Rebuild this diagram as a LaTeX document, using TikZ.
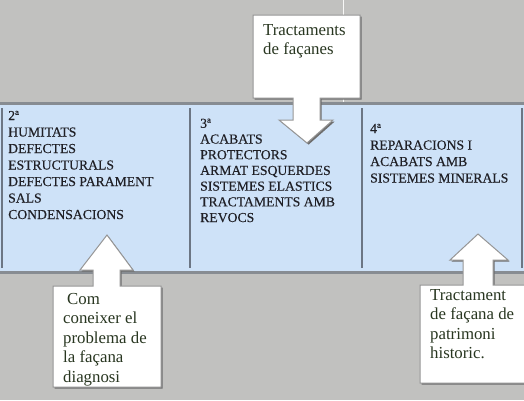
\documentclass[tikz,border=0pt]{standalone}
\usepackage{fontspec}
\setmainfont{Liberation Serif}
\newfontfamily\bandfont[FakeBold=0.35]{Liberation Serif}
\usetikzlibrary{positioning,shadows}
\definecolor{bggray}{RGB}{193,193,191}
\definecolor{bandblue}{RGB}{206,226,248}
\definecolor{bandedge}{RGB}{135,140,146}
\definecolor{divline}{RGB}{108,118,132}
\definecolor{coltextc}{RGB}{32,32,38}
\definecolor{calltextc}{RGB}{40,54,32}
\definecolor{calledge}{RGB}{150,150,150}
\definecolor{callshade}{RGB}{110,110,110}
\tikzset{
  coltext/.style={anchor=north west, inner sep=0pt, align=left, text=coltextc, font=\bandfont\fontsize{13.7pt}{16.2pt}\selectfont},
  calltext/.style={anchor=north west, inner sep=0pt, align=left, text=calltextc, font=\fontsize{16.8pt}{19.5pt}\selectfont},
  callshape/.style={fill=white, draw=calledge, line width=1pt, drop shadow={shadow xshift=1.6pt, shadow yshift=-1.6pt, opacity=1, fill=callshade}},
  divider/.style={draw=divline, line width=2pt},
  bandline/.style={draw=bandedge, line width=2.5pt}
}

\begin{document}
\begin{tikzpicture}[x=1pt, y=-1pt]
  \useasboundingbox (0,0) rectangle (524,400);
  \fill[bggray] (0,0) rectangle (524,400);
  \draw[white!88!bggray, line width=1pt] (343,0) -- (343,103);
  % band with the three columns
  \fill[bandblue] (0,104) rectangle (524,272);
  \draw[bandline] (0,103.5) -- (524,103.5);
  \draw[bandline] (0,272.5) -- (524,272.5);
  \foreach \xd in {2,190,362,522}
    \draw[divider] (\xd,108) -- (\xd,268);
  \node[coltext, font=\bandfont\fontsize{13.7pt}{16.5pt}\selectfont] (col2a) at (8,110.7)
    {2ª\\HUMITATS\\DEFECTES\\ESTRUCTURALS\\DEFECTES PARAMENT\\SALS\\CONDENSACIONS};
  \node[coltext, font=\bandfont\fontsize{13.7pt}{15.7pt}\selectfont] (col3a) at (200,118.5)
    {3ª\\ACABATS\\PROTECTORS\\ARMAT ESQUERDES\\SISTEMES ELASTICS\\TRACTAMENTS AMB\\REVOCS};
  \node[coltext, font=\bandfont\fontsize{13.7pt}{16.5pt}\selectfont] (col4a) at (370,123.7)
    {4ª\\REPARACIONS I\\ACABATS AMB\\SISTEMES MINERALS};
  % callouts
  \draw[callshape] (253,15) -- (360,15) -- (360,98) -- (320,98) -- (320,120) -- (333,120)
    -- (307,143) -- (279,120) -- (293,120) -- (293,98) -- (253,98) -- cycle;
  \draw[callshape] (53,387) -- (53,286) -- (93,286) -- (93,270) -- (80,270) -- (107,235)
    -- (133,270) -- (120,270) -- (120,286) -- (161,286) -- (161,387) -- cycle;
  \draw[callshape] (420,383) -- (420,285) -- (463,285) -- (463,260) -- (450,260) -- (478,234)
    -- (508,260) -- (493,260) -- (493,285) -- (530,285) -- (530,383) -- cycle;
  \node[calltext] (topnote) at (263,23.9) {Tractaments\\de façanes};
  \node[calltext] (leftnote) at (63,292.7) {\hspace*{4pt}Com\\coneixer el\\problema de\\la façana\\diagnosi};
  \node[calltext] (rightnote) at (430,288.9) {Tractament\\de façana de\\patrimoni\\historic.};
\end{tikzpicture}
\end{document}
